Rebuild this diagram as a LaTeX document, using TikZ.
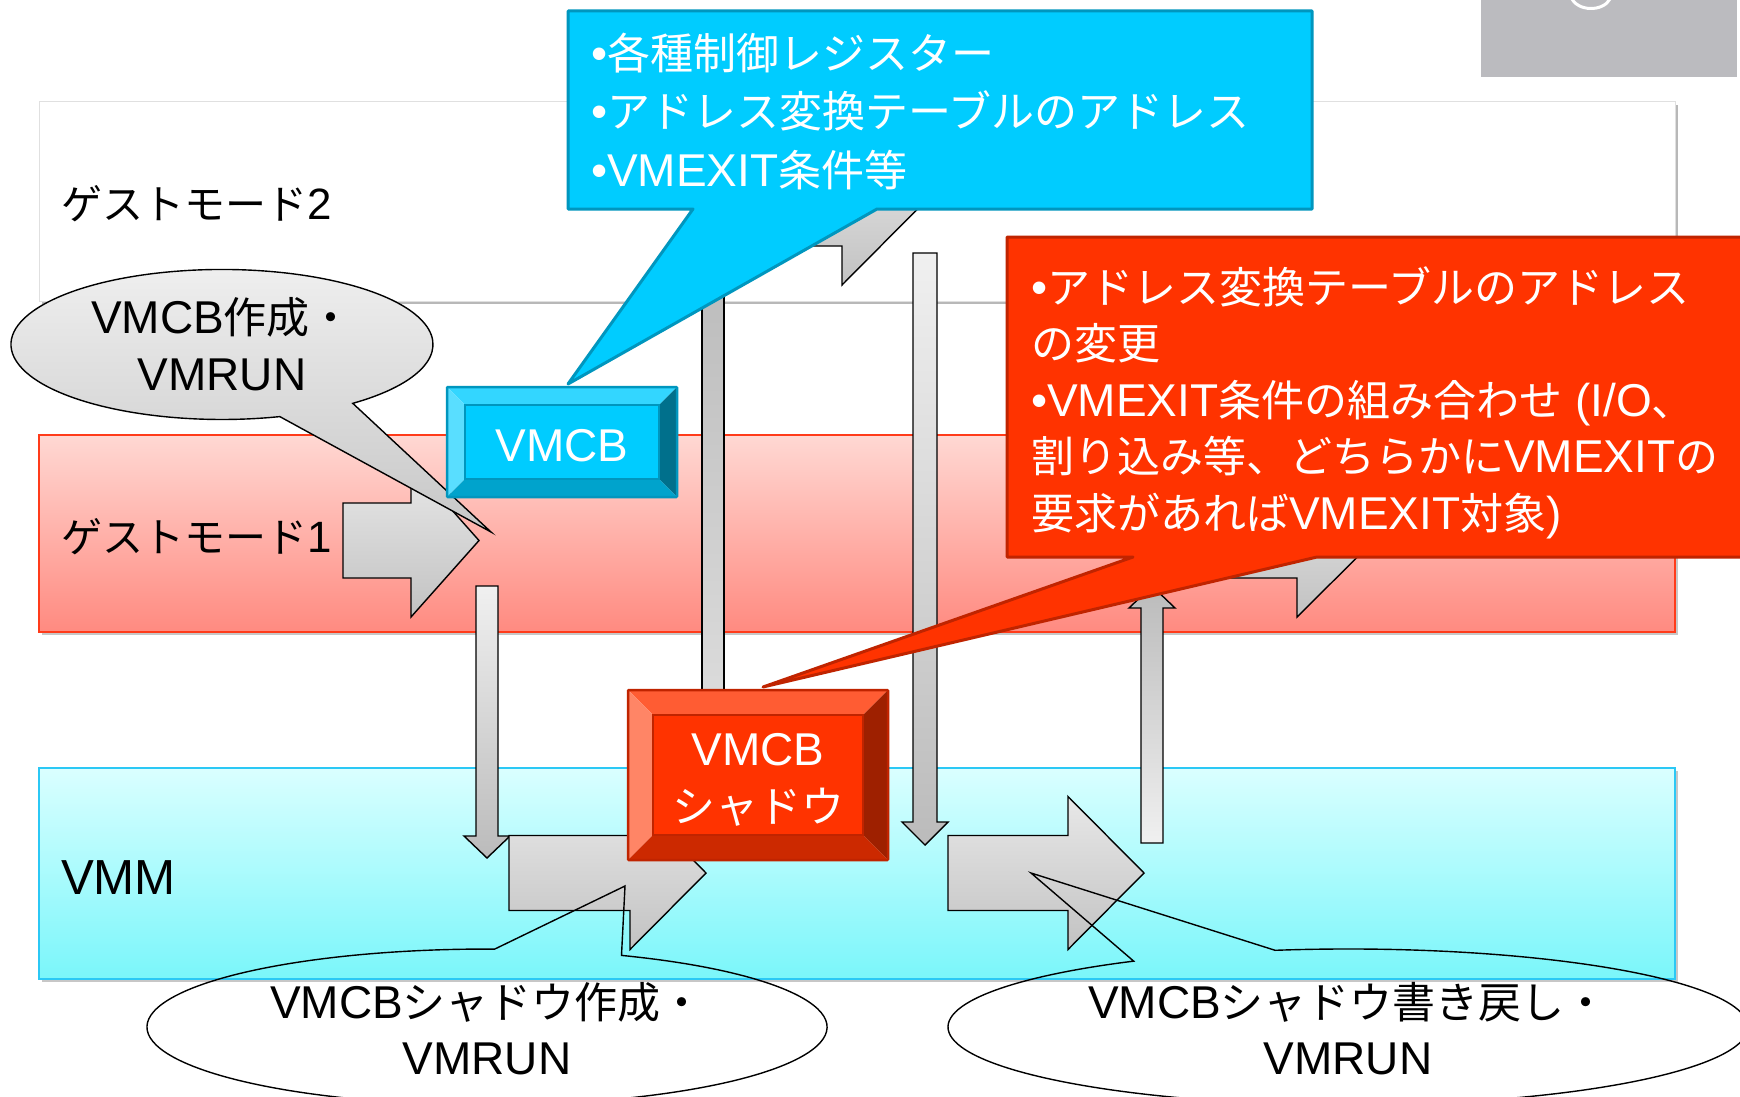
\documentclass[tikz,border=0pt]{standalone}
\usepackage{fontspec}
\setmainfont{Noto Sans CJK JP}
\newfontfamily\latf{Liberation Sans}[Scale=1.07]
\newcommand\la[1]{{\latf #1}}
\usetikzlibrary{calc}
\definecolor{cyanfill}{HTML}{00CCFF}
\definecolor{cyanedge}{HTML}{0096BE}
\definecolor{redfill}{HTML}{FF3300}
\definecolor{rededge}{HTML}{C02400}
\definecolor{gOneTop}{HTML}{FFD8D3}
\definecolor{gOneBot}{HTML}{FF8A80}
\definecolor{gOneEdge}{HTML}{FF3B1A}
\definecolor{vmTop}{HTML}{DAFFFF}
\definecolor{vmBot}{HTML}{7AF6FA}
\definecolor{vmEdge}{HTML}{2BC8F5}
\definecolor{logogray}{HTML}{BBBBBF}
\definecolor{barTop}{HTML}{E8E8E8}
\definecolor{barBot}{HTML}{C2C2C2}
\definecolor{dTop}{HTML}{F0F0F0}
\definecolor{dBot}{HTML}{BBBBBB}
\newcommand\rblock[4]{\draw[blockarrow] (#1,{#4-37.5}) -- (#2,{#4-37.5}) -- (#2,{#4-76.5}) -- (#3,#4) -- (#2,{#4+76.5}) -- (#2,{#4+37.5}) -- (#1,{#4+37.5}) -- cycle;}
\newcommand\bevelbox[8]{%
 \fill[#3] (#1.north west) -- (#1.north east) -- ($(#1.north east)+(-#2,#2)$) -- ($(#1.north west)+(#2,#2)$) -- cycle;
 \fill[#4] (#1.north west) -- ($(#1.north west)+(#2,#2)$) -- ($(#1.south west)+(#2,-#2)$) -- (#1.south west) -- cycle;
 \fill[#5] (#1.north east) -- (#1.south east) -- ($(#1.south east)+(-#2,-#2)$) -- ($(#1.north east)+(-#2,#2)$) -- cycle;
 \fill[#6] (#1.south west) -- ($(#1.south west)+(#2,-#2)$) -- ($(#1.south east)+(-#2,-#2)$) -- (#1.south east) -- cycle;
 \draw[#8, line width=1.5pt, fill=#7] ($(#1.north west)+(#2,#2)$) rectangle ($(#1.south east)+(-#2,-#2)$);
 \draw[#8, line width=2.5pt, rounded corners=1pt] (#1.north west) rectangle (#1.south east);
}
\begin{document}
\begin{tikzpicture}[x=1pt,y=-1pt, font=\fontsize{43}{50}\selectfont,
  every node/.style={inner sep=0pt, outer sep=0pt},
  blockarrow/.style={draw=black, line width=1.4pt, top color=barTop, bottom color=barBot, line join=miter},
  downarrow/.style={draw=black, line width=1.4pt, top color=dTop, bottom color=dBot},
  uparrow/.style={draw=black, line width=1.4pt, top color=dBot, bottom color=dTop},
  bubble/.style={draw=black, line width=1.4pt, line join=miter},
  ltxt/.style={anchor=base west},
  bandlabel/.style={anchor=base west, font=\fontsize{41}{50}\selectfont},
  ctxt/.style={anchor=base},
  wtxt/.style={anchor=base west, text=white},
  cwtxt/.style={anchor=base, text=white}]
\useasboundingbox (0,0) rectangle (1740,1097);
\clip (0,0) rectangle (1740,1097);
\fill[white] (0,0) rectangle (1740,1097);

% bands
\fill[black!28] (42,105) rectangle (1678,304);
\draw[draw=black!12, fill=white, line width=1pt] (39,102) rectangle (1675,301);
\fill[black!22] (42,438) rectangle (1678,635);
\draw[draw=gOneEdge, line width=1.6pt, top color=gOneTop, bottom color=gOneBot] (39,435) rectangle (1675,632);
\fill[black!22] (42,771) rectangle (1678,982);
\draw[draw=vmEdge, line width=1.6pt, top color=vmTop, bottom color=vmBot] (39,768) rectangle (1675,979);

% logo corner
\fill[logogray] (1481,0) rectangle (1737,77);
\draw[white, line width=3pt] (1571,-3) .. controls (1577,12) and (1603,12) .. (1610,-1);

% vertical bars and arrows
\draw[line width=1.4pt, top color=black!27, bottom color=black!14] (702,250) rectangle (724,700);
\draw[downarrow] (476,586) -- (498,586) -- (498,836) -- (510,836) -- (487,858) -- (464,836) -- (476,836) -- cycle;
\draw[downarrow] (913,253) -- (937,253) -- (937,822) -- (948,822) -- (925,845) -- (902,822) -- (913,822) -- cycle;
\draw[uparrow] (1141,843) -- (1163,843) -- (1163,608) -- (1175,608) -- (1152,586) -- (1129,608) -- (1141,608) -- cycle;

% block arrows
\rblock{775}{842}{918}{208.5}
\rblock{343}{411}{479}{540.5}
\rblock{1215}{1297}{1374}{540.5}
\rblock{509}{630}{706}{873}
\rblock{948}{1068}{1144}{873}

% band labels
\node[bandlabel] (lg2) at (61,219) {ゲストモード\la{2}};
\node[bandlabel] (lg1) at (61,552) {ゲストモード\la{1}};
\node[ltxt, font=\fontsize{46}{50}\selectfont] (lvmm) at (61,894) {\la{VMM}};

% top-left bubble
\draw[bubble, top color=black!6, bottom color=black!22] (279.8,416.6) arc[start angle=74.1, end angle=411.7, x radius=211, y radius=75] -- (491,532) -- cycle;
\node[ctxt] (b1a) at (222,333) {\la{VMCB}作成・};
\node[ctxt] (b1b) at (222,390) {\la{VMRUN}};

% VMCB box
\node[minimum width=230pt, minimum height=110pt] (vmcb) at (562,442) {};
\bevelbox{vmcb}{18}{fill=cyanfill!80!white}{fill=cyanfill!65!white}{fill=cyanfill!55!black}{fill=cyanfill!80!black}{cyanfill}{draw=cyanedge}
\node[cwtxt] (vmcbt) at (562,461) {\la{VMCB}};

% VMCB shadow box
\node[minimum width=260pt, minimum height=170pt] (shadow) at (758,775) {};
\bevelbox{shadow}{25}{fill=redfill!80!white}{fill=redfill!60!white}{fill=redfill!62!black}{fill=redfill!80!black}{redfill}{draw=rededge}
\node[cwtxt] (shadowa) at (758,765) {\la{VMCB}};
\node[cwtxt] (shadowb) at (758,822) {シャドウ};

% blue callout
\draw[fill=cyanfill, draw=cyanedge, line width=3pt, line join=round] (568,11) -- (1312,11) -- (1312,209) -- (877,209) -- (568,384) -- (693,209) -- (568,209) -- cycle;
\node[wtxt] (c1a) at (591,70) {\la{•}各種制御レジスター};
\node[wtxt] (c1b) at (591,128) {\la{•}アドレス変換テーブルのアドレス};
\node[wtxt] (c1c) at (591,186) {\la{•VMEXIT}条件等};

% red callout
\draw[fill=redfill, draw=rededge, line width=3pt, line join=round] (1007,237) -- (1760,237) -- (1760,557) -- (1317,557) -- (763,687) -- (1133,557) -- (1007,557) -- cycle;
\node[wtxt] (c2a) at (1031,303) {\la{•}アドレス変換テーブルのアドレス};
\node[wtxt] (c2b) at (1031,359.5) {の変更};
\node[wtxt] (c2c) at (1031,416) {\la{•VMEXIT}条件の組み合わせ\la{\ (I/O}、};
\node[wtxt] (c2d) at (1031,472.5) {割り込み等、どちらかに\la{VMEXIT}の};
\node[wtxt] (c2e) at (1031,529) {要求があれば\la{VMEXIT}対象\la{)}};

% bottom bubbles
\draw[bubble] (621.5,955.4) arc[start angle=293.3, end angle=631.3, x radius=340, y radius=78] -- (625,886) -- cycle;
\node[ctxt] (b2a) at (487,1018) {\la{VMCB}シャドウ作成・};
\node[ctxt] (b2b) at (487,1074) {\la{VMRUN}};
\draw[bubble] (1275.1,950.3) arc[start angle=259.5, end angle=597.6, x radius=400, y radius=78] -- (1031,873) -- cycle;
\node[ctxt] (b3a) at (1348,1018) {\la{VMCB}シャドウ書き戻し・};
\node[ctxt] (b3b) at (1348,1074) {\la{VMRUN}};
\end{tikzpicture}
\end{document}
